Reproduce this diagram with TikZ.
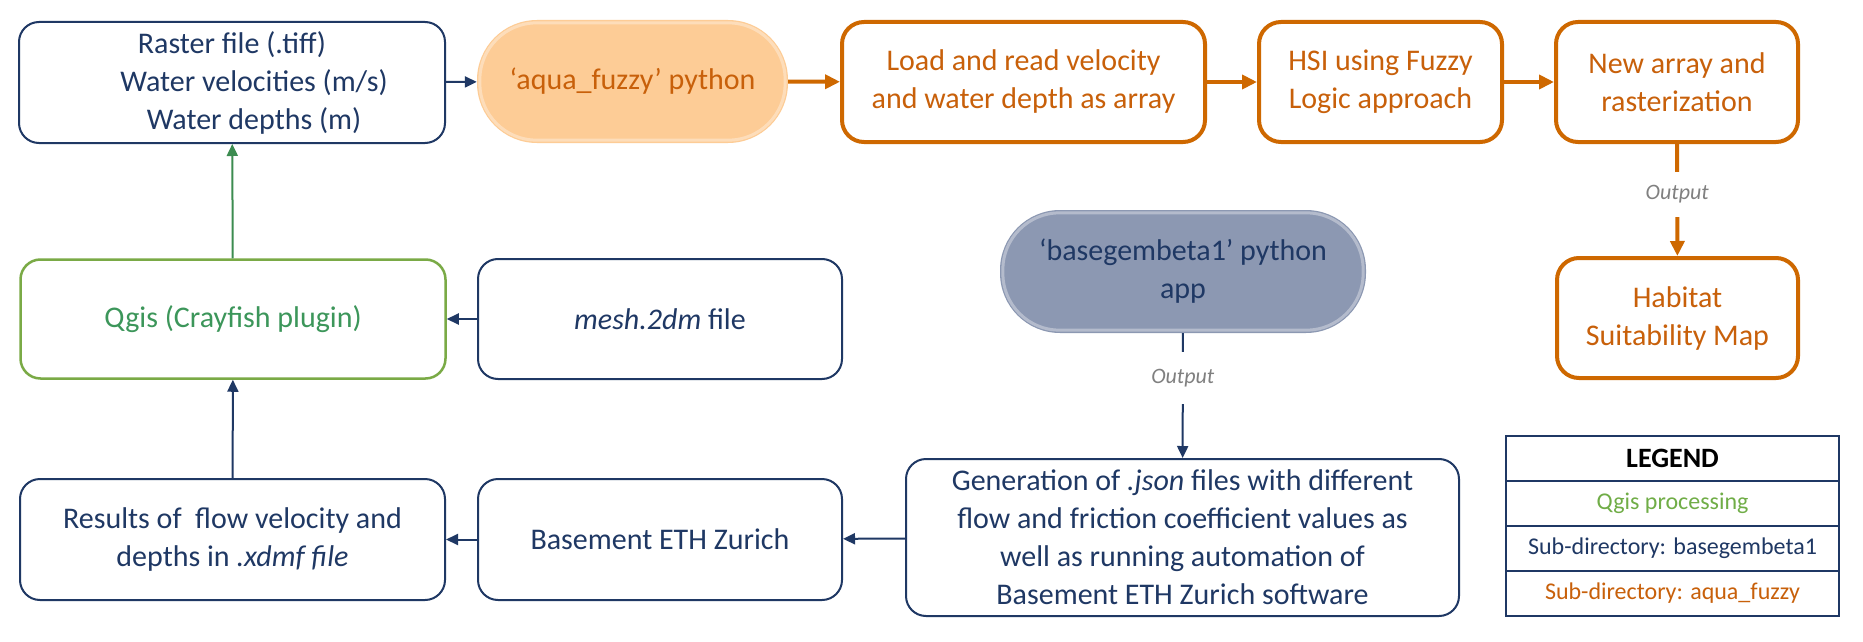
\documentclass[tikz,border=0pt]{standalone}
\usepackage{fontspec}
\setmainfont{Carlito}
\usetikzlibrary{arrows.meta}
\definecolor{navy}{RGB}{31,56,100}
\definecolor{orng}{RGB}{206,104,0}
\definecolor{orngtxt}{RGB}{200,96,10}
\definecolor{qgreen}{RGB}{122,170,70}
\definecolor{qgtxt}{RGB}{60,150,90}
\definecolor{arrowgreen}{RGB}{60,140,80}
\definecolor{leggreen}{RGB}{112,173,71}
\definecolor{peach}{RGB}{253,204,150}
\definecolor{slate}{RGB}{140,152,178}
\definecolor{outgray}{RGB}{128,128,128}
\begin{document}
\begin{tikzpicture}[x=1pt,y=-1pt,
  base/.style={align=center, inner sep=0pt, font=\fontsize{30}{38}\selectfont},
  nbox/.style={base, draw=navy, line width=2pt, rounded corners=20pt, text=navy},
  obox/.style={base, draw=orng, line width=4pt, rounded corners=22pt, text=orngtxt},
  gbox/.style={base, draw=qgreen, line width=2.5pt, rounded corners=20pt, text=qgtxt},
  pill/.style={base, rounded corners=60pt},
  bevel/.style={draw=white, opacity=0.35, line width=3pt, rounded corners=57pt},
  narrow/.style={draw=navy, line width=2pt, -{Triangle[length=12pt,width=11pt]}},
  oarrow/.style={draw=orng, line width=4pt, -{Triangle[length=15pt,width=14pt]}},
  garrow/.style={draw=arrowgreen, line width=2pt, -{Triangle[length=12pt,width=11pt]}},
  outlbl/.style={fill=white, font=\fontsize{22}{26}\selectfont\itshape, text=outgray, inner sep=0pt, minimum width=70pt},
  legrow/.style={draw=navy, line width=2pt, minimum width=333pt, minimum height=45pt, inner sep=0pt, font=\fontsize{24}{28}\selectfont}
]
\useasboundingbox[fill=white] (0,0) rectangle (1863,642);

% top row
\node[nbox, minimum width=426pt, minimum height=121pt] (raster) at (232,82.5)
  {Raster file (.tiff)\\\hspace*{44pt}Water velocities (m/s)\\\hspace*{44pt}Water depths (m)};
\node[pill, fill=peach, text=orngtxt, minimum width=311pt, minimum height=123pt] (aqua) at (632.5,81.5)
  {‘aqua\_fuzzy’ python};
\draw[bevel] ([shift={(3,3)}]aqua.north west) rectangle ([shift={(-3,-3)}]aqua.south east);
\node[obox, minimum width=363pt, minimum height=120pt] (load) at (1023.5,82)
  {Load and read velocity\\and water depth as array};
\node[obox, minimum width=243pt, minimum height=120pt] (hsi) at (1380.5,82)
  {HSI using Fuzzy\\Logic approach};
\node[obox, minimum width=242pt, minimum height=120pt] (newarr) at (1677,82)
  {New array and\\rasterization};
\node[obox, minimum width=241pt, minimum height=120pt] (habitat) at (1677.5,318)
  {Habitat\\Suitability Map};

% middle row
\node[gbox, minimum width=425pt, minimum height=119pt] (qgis) at (233,319)
  {Qgis (Crayfish plugin)};
\node[nbox, minimum width=364pt, minimum height=120pt] (mesh) at (660,319)
  {\textit{mesh.2dm} file};
\node[pill, fill=slate, text=navy, minimum width=366pt, minimum height=123pt] (basegem) at (1183,271.5)
  {‘basegembeta1’ python\\app};
\draw[bevel] ([shift={(3,3)}]basegem.north west) rectangle ([shift={(-3,-3)}]basegem.south east);

% bottom row
\node[nbox, minimum width=425pt, minimum height=121pt] (results) at (232.5,539.5)
  {Results of\ \ flow velocity and\\depths in \textit{.xdmf file}};
\node[nbox, minimum width=364pt, minimum height=121pt] (basement) at (660,539.5)
  {Basement ETH Zurich};
\node[nbox, minimum width=553pt, minimum height=157pt] (gen) at (1182.5,537.5)
  {Generation of \textit{.json} files with different\\flow and friction coefficient values as\\well as running automation of\\Basement ETH Zurich software};

% legend
\node[legrow, font=\fontsize{28}{32}\selectfont\bfseries, text=black] (leg0) at (1672.5,458.5) {LEGEND};
\node[legrow, text=leggreen] (leg1) at (1672.5,503.5) {Qgis processing};
\node[legrow, text=navy] (leg2) at (1672.5,548.5) {Sub-directory: basegembeta1};
\node[legrow, text=orngtxt] (leg3) at (1672.5,593.5) {Sub-directory: aqua\_fuzzy};

% connectors
\draw[narrow] (raster) -- (aqua);
\draw[oarrow] (aqua) -- (load);
\draw[oarrow] (load) -- (hsi);
\draw[oarrow] (hsi) -- (newarr);
\draw[oarrow] (newarr) -- node[outlbl, pos=0.45, minimum height=45pt] {Output} (habitat);
\draw[garrow] (qgis) -- (raster);
\draw[narrow] (results) -- (qgis);
\draw[narrow] (mesh) -- (qgis);
\draw[narrow] (basegem) -- node[outlbl, pos=0.36, minimum height=52pt] {Output} (gen);
\draw[narrow] (gen) -- (basement);
\draw[narrow] (basement) -- (results);
\end{tikzpicture}
\end{document}
